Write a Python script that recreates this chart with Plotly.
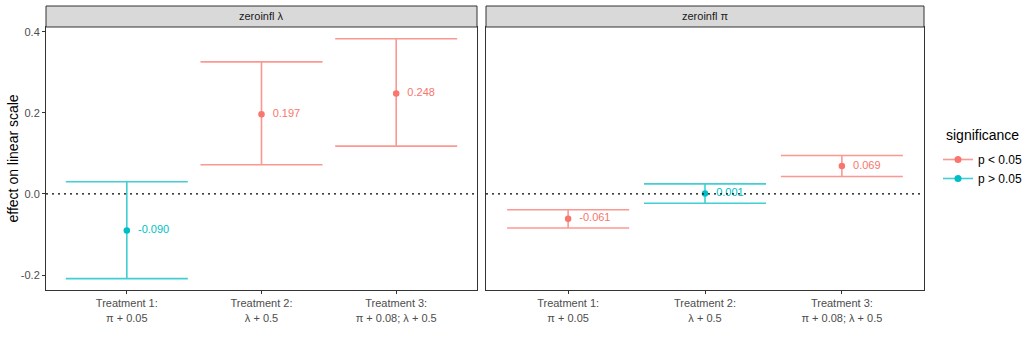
import plotly.graph_objects as go

# ---- data ----
categories = ["Treatment 1:<br>π + 0.05", "Treatment 2:<br>λ + 0.5", "Treatment 3:<br>π + 0.08; λ + 0.5"]
panels = ["zeroinfl λ", "zeroinfl π"]

lam_est = [-0.090, 0.197, 0.248]
lam_low = [-0.209, 0.072, 0.118]
lam_high = [0.030, 0.326, 0.383]
lam_sig = ["p > 0.05", "p < 0.05", "p < 0.05"]

pi_est = [-0.061, 0.001, 0.069]
pi_low = [-0.084, -0.023, 0.043]
pi_high = [-0.039, 0.025, 0.095]
pi_sig = ["p < 0.05", "p > 0.05", "p < 0.05"]

y_ticks = [-0.2, 0.0, 0.2, 0.4]
y_ticktext = ["-0.2", "0.0", "0.2", "0.4"]

colors = {"p < 0.05": "#F8766D", "p > 0.05": "#00BFC4"}
bar_colors = {"p < 0.05": "rgba(248,118,109,0.75)", "p > 0.05": "rgba(0,191,196,0.75)"}

FONT = "Liberation Sans, Arial, sans-serif"
W, H = 1024, 341
fig = go.Figure()

panel_data = [(lam_est, lam_low, lam_high, lam_sig, "x", "y"),
              (pi_est, pi_low, pi_high, pi_sig, "x2", "y2")]

for est, low, high, sig, xa, ya in panel_data:
    for i in range(len(est)):
        s = sig[i]
        fig.add_trace(go.Scatter(
            x=[categories[i]], y=[est[i]], xaxis=xa, yaxis=ya,
            mode="markers+text",
            text=["  %.3f" % est[i]],
            textposition="middle right",
            textfont=dict(family=FONT, size=11, color=colors[s]),
            marker=dict(color=colors[s], size=6.5),
            error_y=dict(type="data", symmetric=False,
                         array=[high[i] - est[i]], arrayminus=[est[i] - low[i]],
                         color=bar_colors[s], thickness=1.6, width=61),
            showlegend=False, hoverinfo="skip"))

# legend entries
for s in ["p < 0.05", "p > 0.05"]:
    fig.add_trace(go.Scatter(x=[None], y=[None], mode="lines+markers", name=s,
                             line=dict(color=bar_colors[s], width=1.6),
                             marker=dict(color=colors[s], size=7), xaxis="x", yaxis="y"))

y_dom = [1 - 290 / H, 1 - 27 / H]
yr = [-0.237, 0.412]
axis_common = dict(showgrid=False, zeroline=False, showline=True, mirror=True,
                   linecolor="#333333", linewidth=1, ticklen=3,
                   tickcolor="#333333",
                   tickfont=dict(family=FONT, size=11, color="#4D4D4D"))

fig.update_layout(
    width=W, height=H, margin=dict(l=0, r=0, t=0, b=0, autoexpand=False),
    plot_bgcolor="white", paper_bgcolor="white",
    xaxis=dict(domain=[46 / W, 477 / W], type="category", categoryorder="array",
               categoryarray=categories, range=[-0.6, 2.6], anchor="y", ticks="outside", **axis_common),
    xaxis2=dict(domain=[486 / W, 924 / W], type="category", categoryorder="array",
                categoryarray=categories, range=[-0.6, 2.6], anchor="y2", ticks="outside", **axis_common),
    yaxis=dict(domain=y_dom, range=yr, tickvals=y_ticks, ticktext=y_ticktext, anchor="x",
               ticks="outside", **axis_common),
    yaxis2=dict(domain=y_dom, range=yr, tickvals=y_ticks, ticktext=y_ticktext,
                showticklabels=False, anchor="x2", matches="y", ticks="", **axis_common),
    legend=dict(x=938 / W, y=1 - 145 / H, xanchor="left", yanchor="top",
                font=dict(family=FONT, size=12, color="#000000"),
                bgcolor="rgba(0,0,0,0)", itemwidth=30, tracegroupgap=3),
    showlegend=True,
)

shapes = []
annotations = []
for xa, ya, name, dom in [("x", "y", panels[0], [46 / W, 477 / W]), ("x2", "y2", panels[1], [486 / W, 924 / W])]:
    shapes.append(dict(type="line", xref=xa + " domain", yref=ya, x0=0, x1=1, y0=0, y1=0,
                       line=dict(color="#000000", width=1.2, dash="2px,4px")))
    shapes.append(dict(type="rect", xref="paper", yref="paper", x0=dom[0], x1=dom[1],
                       y0=1 - 27 / H, y1=1 - 6 / H, fillcolor="#D9D9D9",
                       line=dict(color="#333333", width=1)))
    annotations.append(dict(text=name, xref="paper", yref="paper", x=(dom[0] + dom[1]) / 2,
                            y=1 - 16.5 / H, showarrow=False, xanchor="center", yanchor="middle",
                            font=dict(family=FONT, size=11, color="#1A1A1A")))

annotations.append(dict(text="effect on linear scale", xref="paper", yref="paper",
                        x=12 / W, y=(y_dom[0] + y_dom[1]) / 2, textangle=-90, showarrow=False,
                        xanchor="center", yanchor="middle",
                        font=dict(family=FONT, size=14, color="#000000")))
annotations.append(dict(text="significance", xref="paper", yref="paper",
                        x=944 / W, y=1 - 135 / H, showarrow=False,
                        xanchor="left", yanchor="middle",
                        font=dict(family=FONT, size=14, color="#000000")))

fig.update_layout(shapes=shapes, annotations=annotations)
fig.write_html("out.html")
